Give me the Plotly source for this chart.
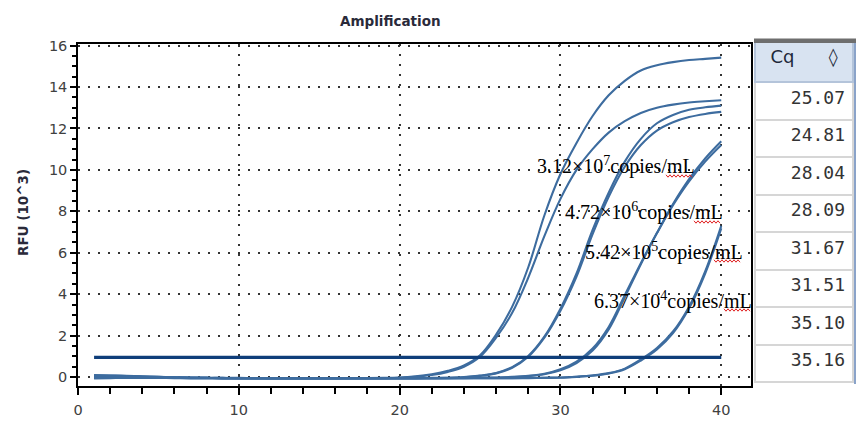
import plotly.graph_objects as go

# cycle numbers and baseline-subtracted RFU (x10^3)
cycles = list(range(1, 41))

rfu_a = [0.08, 0.07, 0.05, 0.03, 0.01, -0.01, -0.02, -0.03, -0.04, -0.04,
         -0.05, -0.05, -0.05, -0.05, -0.05, -0.05, -0.05, -0.05, -0.04, -0.02,
         0.04, 0.14, 0.30, 0.56, 1.05, 2.05, 3.40, 5.30, 7.80, 9.80,
         11.30, 12.60, 13.60, 14.30, 14.80, 15.05, 15.20, 15.30, 15.36, 15.42]
rfu_b = [0.10, 0.08, 0.06, 0.03, 0.01, -0.01, -0.03, -0.04, -0.05, -0.05,
         -0.05, -0.06, -0.06, -0.06, -0.06, -0.06, -0.05, -0.05, -0.05, -0.03,
         0.02, 0.10, 0.25, 0.50, 0.98, 1.90, 3.10, 4.80, 6.80, 8.60,
         10.00, 11.00, 11.80, 12.35, 12.75, 13.00, 13.15, 13.25, 13.31, 13.36]
rfu_c = [0.06, 0.05, 0.04, 0.02, 0.00, -0.02, -0.03, -0.04, -0.05, -0.05,
         -0.05, -0.05, -0.05, -0.05, -0.05, -0.05, -0.05, -0.05, -0.05, -0.05,
         -0.05, -0.04, -0.03, 0.00, 0.07, 0.20, 0.48, 1.02, 1.95, 3.30,
         5.00, 7.10, 8.90, 10.40, 11.50, 12.25, 12.65, 12.90, 13.02, 13.10]
rfu_d = [-0.02, -0.01, -0.01, -0.02, -0.03, -0.04, -0.05, -0.05, -0.06, -0.06,
         -0.06, -0.06, -0.06, -0.06, -0.06, -0.06, -0.06, -0.06, -0.06, -0.06,
         -0.06, -0.05, -0.04, -0.01, 0.06, 0.18, 0.45, 0.98, 1.90, 3.20,
         4.85, 6.90, 8.70, 10.15, 11.20, 11.90, 12.30, 12.55, 12.70, 12.80]
rfu_e = [0.04, 0.04, 0.03, 0.01, -0.01, -0.02, -0.03, -0.04, -0.05, -0.05,
         -0.05, -0.05, -0.05, -0.05, -0.05, -0.05, -0.05, -0.05, -0.05, -0.05,
         -0.05, -0.05, -0.05, -0.05, -0.04, -0.03, 0.00, 0.05, 0.14, 0.33,
         0.68, 1.28, 2.30, 3.85, 5.45, 6.95, 8.35, 9.55, 10.55, 11.38]
rfu_f = [-0.06, -0.05, -0.04, -0.04, -0.04, -0.05, -0.05, -0.05, -0.05, -0.05,
         -0.05, -0.05, -0.05, -0.05, -0.05, -0.05, -0.05, -0.05, -0.05, -0.05,
         -0.05, -0.05, -0.05, -0.04, -0.03, -0.02, 0.01, 0.06, 0.16, 0.38,
         0.75, 1.38, 2.42, 3.95, 5.50, 6.95, 8.30, 9.45, 10.40, 11.20]
rfu_g = [0.05, 0.05, 0.04, 0.02, 0.00, -0.02, -0.03, -0.04, -0.04, -0.05,
         -0.05, -0.05, -0.05, -0.05, -0.05, -0.05, -0.05, -0.05, -0.05, -0.05,
         -0.05, -0.05, -0.05, -0.05, -0.05, -0.05, -0.05, -0.04, -0.03, -0.02,
         0.02, 0.08, 0.19, 0.41, 0.85, 1.40, 2.20, 3.40, 5.10, 7.30]
rfu_h = [-0.04, -0.03, -0.03, -0.03, -0.04, -0.04, -0.05, -0.05, -0.05, -0.05,
         -0.05, -0.05, -0.05, -0.05, -0.05, -0.05, -0.05, -0.05, -0.05, -0.05,
         -0.05, -0.05, -0.05, -0.05, -0.05, -0.05, -0.05, -0.05, -0.04, -0.03,
         0.01, 0.07, 0.17, 0.38, 0.80, 1.33, 2.12, 3.32, 5.00, 7.18]

curves = [rfu_a, rfu_b, rfu_c, rfu_d, rfu_e, rfu_f, rfu_g, rfu_h]
threshold = 0.95

cq_values = ["25.07", "24.81", "28.04", "28.09", "31.67", "31.51", "35.10", "35.16"]

conc_labels = ["3.12×10<sup>7</sup>copies/mL", "4.72×10<sup>6</sup>copies/mL",
               "5.42×10<sup>5</sup>copies/mL", "6.37×10<sup>4</sup>copies/mL"]

# the page body has an 8px margin, so the figure is drawn 8px in from the corner
OFF = 8
W, H = 856, 413
ML, MR, MT, MB = 70, 8, 30, 35


def px_x(px):
    # page pixel -> paper fraction
    return (px - OFF - ML) / (W - ML - MR)


def px_y(py):
    return (H - MB - (py - OFF)) / (H - MT - MB)


def squiggle(x0, x1, yy):
    # little red zigzag like a spell-check underline
    pts = []
    px = x0
    up = True
    while px <= x1:
        pts.append((px_x(px), px_y(yy - 1.2 if up else yy + 1.2)))
        px += 2
        up = not up
    return "M " + " L ".join(f"{a:.5f},{b:.5f}" for a, b in pts)


fig = go.Figure()

for vals in curves:
    fig.add_trace(go.Scatter(x=cycles, y=vals, mode="lines",
                             line=dict(color="#3d6c9f", width=2.1, shape="spline"),
                             showlegend=False, hoverinfo="skip"))

fig.add_trace(go.Scatter(x=[cycles[0], cycles[-1]], y=[threshold, threshold],
                         mode="lines", line=dict(color="#0f3e7a", width=3.2),
                         showlegend=False, hoverinfo="skip"))

# Cq table on the right
fig.add_trace(go.Table(
    domain=dict(x=[px_x(755), px_x(853)], y=[0, px_y(41)]),
    header=dict(values=["Cq\u00a0\u00a0\u00a0\u00a0\u00a0\u00a0\u25ca"],
                fill_color="#d8e3f1", line=dict(color="#b4c4da", width=2),
                align="center", height=41,
                font=dict(family="DejaVu Sans", size=18, color="#1e2a3a")),
    cells=dict(values=[cq_values], fill_color="white",
               line=dict(color="#d6d6d6", width=2),
               align="right", height=37.5,
               font=dict(family="DejaVu Sans Mono", size=18, color="#333333")),
))

tick_font = dict(family="DejaVu Sans", size=14.5, color="#404040")
x_rng = [0, 41.85]
y_rng = [-0.43, 16.1]

fig.update_layout(
    width=W, height=H, template="none",
    margin=dict(l=ML, r=MR, t=MT, b=MB, autoexpand=False),
    paper_bgcolor="white", plot_bgcolor="white",
    xaxis=dict(domain=[0, px_x(751)], range=x_rng, dtick=10, tick0=0, automargin=False,
               ticks="outside", ticklen=7, tickwidth=1.5, tickcolor="black",
               ticklabelstandoff=3,
               minor=dict(dtick=2, ticks="outside", ticklen=6, tickwidth=1.5,
                          tickcolor="black", showgrid=False),
               showline=True, linecolor="black", linewidth=1.5, mirror=True,
               showgrid=True, gridcolor="#333333", gridwidth=1.6, griddash="2px,8px",
               zeroline=False, tickfont=tick_font),
    xaxis2=dict(overlaying="x", side="top", anchor="y", range=x_rng, dtick=10,
                automargin=False,
                ticks="inside", ticklen=5, tickwidth=1.3, tickcolor="black",
                minor=dict(dtick=2, ticks="inside", ticklen=4, tickwidth=1.3,
                           tickcolor="black", showgrid=False),
                showticklabels=False, showgrid=False, zeroline=False, showline=False),
    yaxis=dict(domain=[0, px_y(43.5)], range=y_rng, dtick=2, tick0=0, automargin=False,
               ticks="outside", ticklen=6, tickwidth=1.5, tickcolor="black",
               minor=dict(dtick=0.5, ticks="outside", ticklen=4, tickwidth=1.5,
                          tickcolor="black", showgrid=False),
               showline=True, linecolor="black", linewidth=1.5, mirror=True,
               showgrid=True, gridcolor="#333333", gridwidth=1.6, griddash="2px,8px",
               zeroline=False, tickfont=tick_font),
    yaxis2=dict(overlaying="y", side="right", anchor="x", range=y_rng, dtick=2,
                automargin=False,
                ticks="inside", ticklen=5, tickwidth=1.3, tickcolor="black",
                minor=dict(dtick=0.5, ticks="inside", ticklen=3, tickwidth=1.3,
                           tickcolor="black", showgrid=False),
                showticklabels=False, showgrid=False, zeroline=False, showline=False),
    yaxis3=dict(overlaying="y", side="left", anchor="x", range=y_rng, dtick=2,
                automargin=False,
                ticks="inside", ticklen=5, tickwidth=1.5, tickcolor="black",
                minor=dict(dtick=0.5, ticks="inside", ticklen=3, tickwidth=1.5,
                           tickcolor="black", showgrid=False),
                showticklabels=False, showgrid=False, zeroline=False, showline=False),
)

fig.add_annotation(text="<b>Amplification</b>", xref="paper", yref="paper",
                   x=px_x(390), y=px_y(21), xanchor="center", yanchor="middle",
                   showarrow=False,
                   font=dict(family="DejaVu Sans", size=13.5, color="#2a2a3a"))
fig.add_annotation(text="<b>RFU (10^3)</b>", xref="paper", yref="paper",
                   x=px_x(23), y=px_y(212), xanchor="center", yanchor="middle",
                   textangle=-90, showarrow=False,
                   font=dict(family="DejaVu Sans", size=13.5, color="#2a2a3a"))

label_pos = [(28.42, 10.2), (30.18, 7.97), (31.43, 6.04), (31.95, 3.71)]
for txt, (lx, ly) in zip(conc_labels, label_pos):
    fig.add_annotation(text=txt, x=lx, y=ly, xref="x", yref="y",
                       xanchor="left", yanchor="middle", showarrow=False,
                       font=dict(family="Liberation Serif", size=20, color="black"))

# red spell-check underlines below "mL"
for x0, x1, yy in [(666, 692, 176), (694, 720, 222), (714, 741, 261), (724, 750, 310)]:
    fig.add_shape(type="path", xref="paper", yref="paper", path=squiggle(x0, x1, yy),
                  line=dict(color="#e02020", width=1))

# table frame: dark top edge and blue right edge
fig.add_shape(type="rect", xref="paper", yref="paper",
              x0=px_x(754), x1=px_x(857), y0=px_y(43), y1=px_y(38.5),
              fillcolor="#6e6e6e", line_width=0)
fig.add_shape(type="line", xref="paper", yref="paper",
              x0=px_x(855.5), x1=px_x(855.5), y0=px_y(384), y1=px_y(43),
              line=dict(color="#8aa3c9", width=3))

fig.write_html("out.html")
